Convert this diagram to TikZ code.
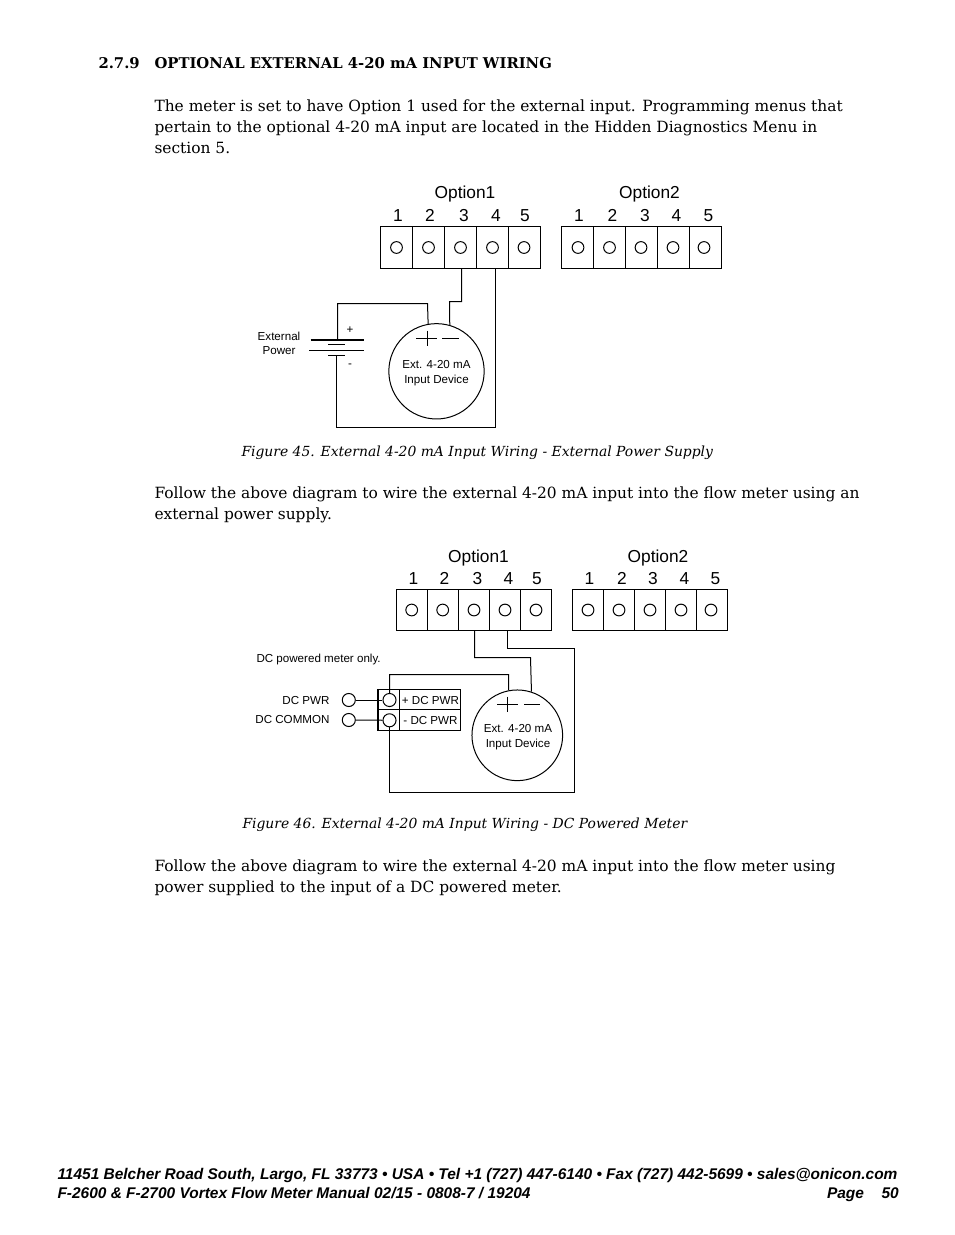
\documentclass[tikz,border=0pt]{standalone}
\usepackage{fontspec}
\setmainfont{DejaVu Serif}
\newfontfamily\labelfont{Liberation Sans}
\usetikzlibrary{positioning}

\tikzset{
	textline/.style={anchor=base west, inner sep=0pt, font=\fontsize{11.58}{14}\selectfont},
	headline/.style={textline, font=\fontsize{11.1}{14}\selectfont\bfseries},
	capline/.style={textline, font=\fontsize{10.42}{14}\selectfont\itshape},
	footline/.style={anchor=base west, inner sep=0pt, font=\labelfont\fontsize{11.6}{14}\selectfont\bfseries\itshape},
	optlabel/.style={anchor=base, inner sep=0pt, font=\labelfont\fontsize{13}{15}\selectfont},
	smalllabel/.style={inner sep=0pt, font=\labelfont\fontsize{8.7}{11}\selectfont},
	termcell/.style={draw, rectangle, minimum width=24pt, minimum height=31.5pt, inner sep=0pt},
	termcellb/.style={draw, rectangle, minimum width=23.25pt, minimum height=31pt, inner sep=0pt},
	screw/.style={draw, circle, minimum size=8.8pt, inner sep=0pt},
	bigscrew/.style={draw, circle, minimum size=9.8pt, inner sep=0pt},
	device/.style={draw, circle, inner sep=0pt},
	wire/.style={line width=0.75pt}
}

\begin{document}
\begin{tikzpicture}[x=0.75pt, y=-0.75pt, line width=0.75pt]
	\useasboundingbox (0, 0) rectangle (954, 1235);
	
	\node[headline] (secnum) at (98, 68) {2.7.9};
	\node[headline] (sectitle) at (154, 68) {OPTIONAL EXTERNAL 4-20 mA INPUT WIRING};
	
	\node[textline] (intro1) at (154, 111) {The meter is set to have Option 1 used for the external input. Programming menus that};
	\node[textline] (intro2) at (154, 132) {pertain to the optional 4-20 mA input are located in the Hidden Diagnostics Menu in};
	\node[textline] (intro3) at (154, 153) {section 5.};
	
	\node[optlabel] (opta) at (465, 198) {Option1};
	\node[optlabel] (optb) at (649.5, 198) {Option2};
	
	\node[optlabel] (na1) at (398, 221) {1};
	\node[optlabel] (na2) at (430, 221) {2};
	\node[optlabel] (na3) at (464, 221) {3};
	\node[optlabel] (na4) at (496, 221) {4};
	\node[optlabel] (na5) at (525, 221) {5};
	\node[optlabel] (nb1) at (579, 221) {1};
	\node[optlabel] (nb2) at (612.5, 221) {2};
	\node[optlabel] (nb3) at (645, 221) {3};
	\node[optlabel] (nb4) at (676.5, 221) {4};
	\node[optlabel] (nb5) at (708.5, 221) {5};
	
	\node[termcell] (a1) at (396.5, 247.5) {};
	\node[termcell] (a2) at (428.5, 247.5) {};
	\node[termcell] (a3) at (460.5, 247.5) {};
	\node[termcell] (a4) at (492.5, 247.5) {};
	\node[termcell] (a5) at (524.5, 247.5) {};
	\node[termcell] (b1) at (577.5, 247.5) {};
	\node[termcell] (b2) at (609.5, 247.5) {};
	\node[termcell] (b3) at (641.5, 247.5) {};
	\node[termcell] (b4) at (673.5, 247.5) {};
	\node[termcell] (b5) at (705.5, 247.5) {};
	
	\node[screw] (sa1) at (396.5, 247.5) {};
	\node[screw] (sa2) at (428.5, 247.5) {};
	\node[screw] (sa3) at (460.5, 247.5) {};
	\node[screw] (sa4) at (492.5, 247.5) {};
	\node[screw] (sa5) at (524, 247.5) {};
	\node[screw] (sb1) at (578, 247.5) {};
	\node[screw] (sb2) at (609.5, 247.5) {};
	\node[screw] (sb3) at (641, 247.5) {};
	\node[screw] (sb4) at (673, 247.5) {};
	\node[screw] (sb5) at (704, 247.5) {};
	
	\node[device, minimum size=71.5pt] (dev1) at (436.5, 371.3) {};
	\node[smalllabel, align=center] (dev1label) at (436.5, 373.3) {Ext. 4-20 mA\\Input Device};
	
	\node[smalllabel, align=center] (extpwr) at (279, 343.5) {External\\Power};
	\node[smalllabel] (plus1) at (350, 330) {+};
	\node[smalllabel] (minus1) at (350, 366) {-};
	
	\coordinate (batt1) at (337.5, 339.5);
	\coordinate (batt2) at (336.5, 355.5);
	\coordinate (w1a) at (461.5, 268.5);
	\coordinate (w1b) at (495.5, 268.5);
	
	\draw[line width=1.5pt] (310.7, 339.5) -- (363.7, 339.5);
	\draw (328, 344.5) -- (345.3, 344.5);
	\draw (309.3, 350.5) -- (363.7, 350.5);
	\draw (328, 355.5) -- (345.3, 355.5);
	
	\draw (416, 338.5) -- (436.7, 338.5);
	\draw (427.5, 330.7) -- (427.5, 346);
	\draw (442, 338.5) -- (458.7, 338.5);
	
	\draw[wire] (w1a) -- (461.5, 301.5) -- (449.5, 301.5) -- (dev1.74);
	\draw[wire] (dev1.100) -- (427.5, 303.5) -- (337.5, 303.5) -- (batt1);
	\draw[wire] (batt2) -- (336.5, 427.5) -- (495.5, 427.5) -- (w1b);
	
	\node[capline] (cap1) at (241, 456) {Figure 45. External 4-20 mA Input Wiring - External Power Supply};
	
	\node[textline] (mid1) at (154, 498) {Follow the above diagram to wire the external 4-20 mA input into the flow meter using an};
	\node[textline] (mid2) at (154, 519) {external power supply.};
	
	\node[optlabel] (optc) at (478.5, 562) {Option1};
	\node[optlabel] (optd) at (658, 562) {Option2};
	
	\node[optlabel] (nc1) at (413.5, 584) {1};
	\node[optlabel] (nc2) at (444.5, 584) {2};
	\node[optlabel] (nc3) at (477.5, 584) {3};
	\node[optlabel] (nc4) at (508.5, 584) {4};
	\node[optlabel] (nc5) at (537, 584) {5};
	\node[optlabel] (nd1) at (589.5, 584) {1};
	\node[optlabel] (nd2) at (622, 584) {2};
	\node[optlabel] (nd3) at (653, 584) {3};
	\node[optlabel] (nd4) at (684.5, 584) {4};
	\node[optlabel] (nd5) at (715.5, 584) {5};
	
	\node[termcellb] (c1) at (412, 610) {};
	\node[termcellb] (c2) at (443, 610) {};
	\node[termcellb] (c3) at (474, 610) {};
	\node[termcellb] (c4) at (505, 610) {};
	\node[termcellb] (c5) at (536, 610) {};
	\node[termcellb] (d1) at (588, 610) {};
	\node[termcellb] (d2) at (619, 610) {};
	\node[termcellb] (d3) at (650, 610) {};
	\node[termcellb] (d4) at (681, 610) {};
	\node[termcellb] (d5) at (712, 610) {};
	
	\node[screw] (sc1) at (411.7, 610) {};
	\node[screw] (sc2) at (442.7, 610) {};
	\node[screw] (sc3) at (474, 610) {};
	\node[screw] (sc4) at (505, 610) {};
	\node[screw] (sc5) at (536, 610) {};
	\node[screw] (sd1) at (588, 610) {};
	\node[screw] (sd2) at (619, 610) {};
	\node[screw] (sd3) at (650, 610) {};
	\node[screw] (sd4) at (681, 610) {};
	\node[screw] (sd5) at (711, 610) {};
	
	\node[smalllabel, anchor=base west] (dconly) at (256, 662) {DC powered meter only.};
	\node[smalllabel, anchor=base east] (dcpwr) at (330, 704) {DC PWR};
	\node[smalllabel, anchor=base east] (dccom) at (330, 723) {DC COMMON};
	
	\node[bigscrew] (pa) at (348.8, 700) {};
	\node[bigscrew] (pb) at (348.8, 720) {};
	
	\node[draw, rectangle, minimum width=15.75pt, minimum height=15.2pt, inner sep=0pt] (ta) at (389, 699.7) {};
	\node[draw, rectangle, minimum width=15.75pt, minimum height=15.2pt, inner sep=0pt] (tb) at (389, 720) {};
	\node[draw, rectangle, minimum width=45.7pt, minimum height=15.2pt, inner sep=0pt] (tc) at (430.2, 699.7) {};
	\node[draw, rectangle, minimum width=45.7pt, minimum height=15.2pt, inner sep=0pt] (td) at (430.2, 720) {};
	\node[smalllabel] (tclabel) at (430.5, 700.5) {+ DC PWR};
	\node[smalllabel] (tdlabel) at (430.5, 720) {- DC PWR};
	
	\draw[line width=1.5pt] (ta.north west) -- (tb.south west);
	
	\node[bigscrew, fill=white] (qa) at (389.5, 700) {};
	\node[bigscrew, fill=white] (qb) at (389.5, 720.3) {};
	
	\node[device, minimum size=68pt] (dev2) at (517.3, 735.3) {};
	\node[smalllabel, align=center] (dev2label) at (518, 737.3) {Ext. 4-20 mA\\Input Device};
	
	\draw (497, 704.5) -- (518.3, 704.5);
	\draw (507.5, 696.7) -- (507.5, 712.3);
	\draw (524, 704.5) -- (540, 704.5);
	
	\coordinate (w2a) at (474.5, 630.3);
	\coordinate (w2b) at (507.5, 630.3);
	
	\draw[wire] (pa) -- (qa);
	\draw[wire] (pb) -- (qb);
	\draw[wire] (w2a) -- (474.5, 657.5) -- (530.5, 657.5) -- (dev2.72);
	\draw[wire] (w2b) -- (507.5, 648.5) -- (574.5, 648.5) -- (574.5, 792.5) -- (389.5, 792.5) -- (qb);
	\draw[wire] (qa) -- (389.5, 674.5) -- (508.5, 674.5) -- (dev2.101);
	
	\node[capline] (cap2) at (242, 828) {Figure 46. External 4-20 mA Input Wiring - DC Powered Meter};
	
	\node[textline] (end1) at (154, 871) {Follow the above diagram to wire the external 4-20 mA input into the flow meter using};
	\node[textline] (end2) at (154, 892) {power supplied to the input of a DC powered meter.};
	
	\node[footline] (foot1) at (57, 1179) {11451 Belcher Road South, Largo, FL 33773 • USA • Tel +1 (727) 447-6140 • Fax (727) 442-5699 • sales@onicon.com};
	\node[footline] (foot2) at (57, 1198) {F-2600 \& F-2700 Vortex Flow Meter Manual 02/15 - 0808-7 / 19204};
	\node[footline] (foot3) at (826.5, 1198) {Page};
	\node[footline] (foot4) at (881, 1198) {50};
\end{tikzpicture}
\end{document}
